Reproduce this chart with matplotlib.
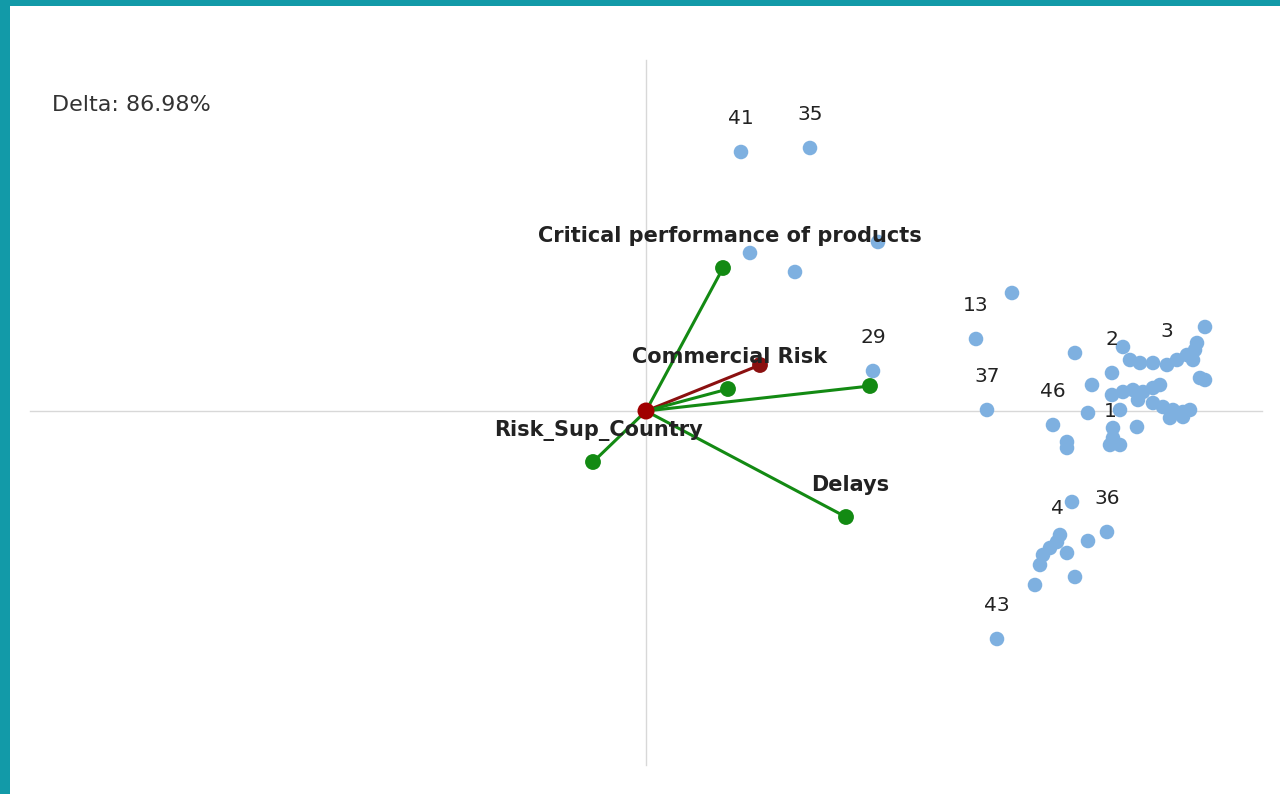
import matplotlib
import matplotlib.pyplot as plt

matplotlib.use('Agg')

# scores (observations) on the two first components
point_x = [0.95, 1.64, 1.04, 1.49, 2.32, 2.27, 3.66, 3.30, 3.41, 4.29,
           4.77, 5.59, 4.84, 4.94, 5.07, 5.21, 5.31, 5.41, 5.49, 5.51,
           5.47, 5.54, 5.59, 4.66, 4.46, 4.66, 4.77, 4.87, 4.97, 5.07,
           5.14, 4.92, 5.07, 5.17, 5.27, 5.37, 5.44, 5.24, 5.37, 4.74,
           4.42, 4.07, 4.21, 4.21, 4.67, 4.67, 4.64, 4.74, 4.91, 4.26,
           4.61, 4.42, 4.14, 4.11, 4.04, 3.97, 3.94, 4.21, 4.29, 3.89,
           3.51]
point_y = [2.59, 2.63, 1.58, 1.39, 1.69, 0.40, 1.18, 0.72, 0.01, 0.58,
           0.64, 0.84, 0.51, 0.48, 0.48, 0.46, 0.51, 0.56, 0.61, 0.68,
           0.51, 0.33, 0.31, 0.38, 0.26, 0.16, 0.19, 0.21, 0.19, 0.23,
           0.26, 0.11, 0.08, 0.04, 0.01, -0.01, 0.01, -0.07, -0.06, 0.01,
           -0.02, -0.14, -0.31, -0.37, -0.17, -0.27, -0.34, -0.34, -0.16, -0.91,
           -1.21, -1.30, -1.24, -1.31, -1.37, -1.44, -1.54, -1.42, -1.66, -1.74,
           -2.28]
point_label = ["41", "35", "", "", "", "29", "", "13", "37", "",
               "", "", "", "", "", "3", "", "", "", "",
               "", "", "", "2", "", "", "", "", "", "",
               "", "", "", "", "", "", "", "", "", "",
               "", "46", "", "", "", "", "1", "", "", "",
               "36", "", "", "4", "", "", "", "", "", "",
               "43"]

# variable loadings
var_x = [0.77, 1.14, 0.82, 2.24, 2.00, -0.53]
var_y = [1.43, 0.46, 0.22, 0.25, -1.06, -0.51]
var_label = ["Critical performance of products", "Commercial Risk", "", "",
             "Delays", "Risk_Sup_Country"]
var_color = ["#138a13", "#8b1010", "#138a13", "#138a13", "#138a13", "#138a13"]
label_offset = [(5, 23), (-22, 6), (0, 0), (0, 0), (3, 23), (4, 23)]

delta = 86.98

fig = plt.figure(figsize=(12.8, 7.94), dpi=100, facecolor="#129aa8")
ax = fig.add_axes([10 / 1280, 0, 1270 / 1280, 788 / 794])
ax.set_facecolor("white")
ax.set_xlim(-6.36, 6.34)
ax.set_ylim(-3.83, 4.05)
ax.set_xticks([])
ax.set_yticks([])
for s in ax.spines.values():
    s.set_visible(False)

# axes cross
ax.plot([0, 0], [-3.54, 3.51], color="#d8d8d8", lw=1, zorder=1)
ax.plot([-6.16, 6.16], [0, 0], color="#d8d8d8", lw=1, zorder=1)

ax.scatter(point_x, point_y, s=110, color="#7eb0e0", edgecolors="none", zorder=2)
for x, y, lab in zip(point_x, point_y, point_label):
    if lab:
        ax.annotate(lab, (x, y), xytext=(0, 24), textcoords="offset points",
                    ha="center", va="center", fontsize=14.5, color="#222222",
                    zorder=5)

for i in range(len(var_x)):
    ax.plot([0, var_x[i]], [0, var_y[i]], color=var_color[i], lw=2.2, zorder=3)
    ax.scatter([var_x[i]], [var_y[i]], s=130, color=var_color[i],
               edgecolors="none", zorder=4)
    if var_label[i]:
        ax.annotate(var_label[i], (var_x[i], var_y[i]), xytext=label_offset[i],
                    textcoords="offset points", ha="center", va="center",
                    fontsize=15, fontweight="bold", color="#222222", zorder=5)

ax.scatter([0], [0], s=150, color="#a00000", edgecolors="none", zorder=4)

ax.text(42 / 1270, 1 - 99 / 788, "Delta: %.2f%%" % delta, transform=ax.transAxes,
        fontsize=16, color="#333333", ha="left", va="center")

fig.savefig("out.png", dpi=100, facecolor=fig.get_facecolor())
